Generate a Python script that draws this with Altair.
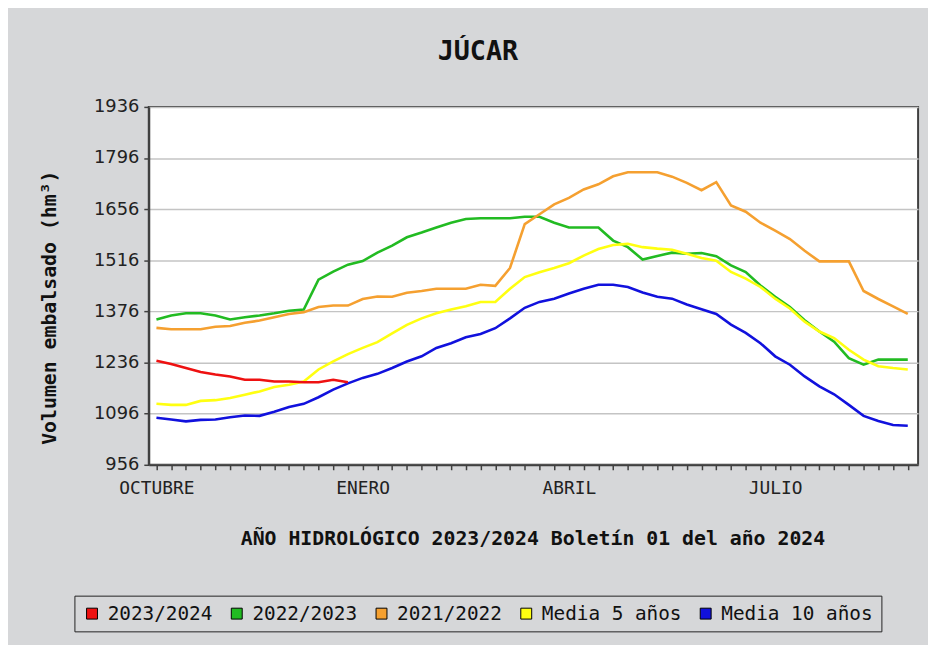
import altair as alt
import pandas as pd

# ---- data ----
series_names = ["2023/2024", "2022/2023", "2021/2022", "Media 5 años", "Media 10 años"]
series_colors = ["#ee1111", "#22bb22", "#f5a030", "#ffff11", "#1111dd"]

red = [1241, 1232, 1221, 1210, 1203, 1198, 1189, 1189, 1184, 1184, 1182, 1182, 1189, 1182]

green = [1354, 1365, 1371, 1371, 1365, 1354, 1360, 1365, 1371, 1378, 1381, 1463, 1485, 1504,
         1514, 1537, 1556, 1579, 1592, 1606, 1619, 1629, 1631, 1631, 1631, 1635, 1635, 1619,
         1606, 1606, 1606, 1570, 1552, 1518, 1528, 1537, 1534, 1536, 1527, 1502, 1484, 1447,
         1416, 1388, 1352, 1321, 1293, 1248, 1230, 1244, 1244, 1244]

orange = [1331, 1327, 1327, 1327, 1334, 1336, 1345, 1351, 1360, 1369, 1374, 1388, 1392, 1392,
          1410, 1417, 1416, 1427, 1432, 1438, 1438, 1438, 1449, 1446, 1495, 1615, 1642, 1669,
          1687, 1710, 1724, 1746, 1757, 1757, 1757, 1745, 1728, 1708, 1730, 1666, 1649, 1619,
          1597, 1574, 1542, 1513, 1513, 1513, 1432, 1410, 1390, 1369]

yellow = [1123, 1120, 1120, 1131, 1133, 1139, 1148, 1157, 1169, 1175, 1184, 1217, 1239, 1259,
          1276, 1292, 1316, 1339, 1357, 1371, 1381, 1390, 1402, 1402, 1438, 1470, 1483, 1495,
          1508, 1529, 1547, 1558, 1561, 1552, 1548, 1545, 1534, 1522, 1515, 1484, 1466, 1443,
          1411, 1384, 1348, 1321, 1303, 1271, 1244, 1226, 1221, 1217]

blue = [1085, 1080, 1075, 1079, 1080, 1086, 1091, 1090, 1101, 1114, 1123, 1141, 1162, 1179,
        1194, 1205, 1221, 1239, 1253, 1276, 1289, 1305, 1314, 1330, 1357, 1386, 1402, 1411,
        1425, 1438, 1449, 1449, 1443, 1428, 1416, 1411, 1395, 1382, 1369, 1340, 1317, 1289,
        1253, 1230, 1198, 1171, 1149, 1120, 1090, 1076, 1065, 1063]

y_ticks = [956, 1096, 1236, 1376, 1516, 1656, 1796, 1936]
month_ticks = [0, 14, 28, 42]
month_labels = ["OCTUBRE", "ENERO", "ABRIL", "JULIO"]
n_weeks = 52

title_text = "JÚCAR"
x_title = "AÑO HIDROLÓGICO 2023/2024 Boletín 01 del año 2024"
y_title = "Volumen embalsado (hm³)"

# ---- build long table (draw order: red last, on top) ----
rows = []
draw_order = [(series_names[1], green), (series_names[2], orange), (series_names[3], yellow),
              (series_names[4], blue), (series_names[0], red)]
for name, vals in draw_order:
    for i, v in enumerate(vals):
        rows.append({"semana": i, "valor": v, "serie": name})
df = pd.DataFrame(rows)

label_expr = " : ".join(
    f"datum.value == {t} ? '{l}'" for t, l in zip(month_ticks, month_labels)
) + " : ''"

x_enc = alt.X(
    "semana:Q",
    scale=alt.Scale(domain=[-0.52, 51.7], nice=False, zero=False),
    axis=alt.Axis(
        values=list(range(n_weeks)),
        labelExpr=label_expr,
        labelOverlap=False,
        labelFlush=False,
        grid=False,
        tickSize=5,
        labelPadding=10,
        labelFont="DejaVu Sans Mono",
        labelFontSize=18,
        title=x_title,
        titleFont="DejaVu Sans Mono",
        titleFontWeight="bold",
        titleFontSize=20,
        titleX=387,
        titleY=74,
        titleBaseline="middle",
        titleAlign="center",
    ),
)
y_enc = alt.Y(
    "valor:Q",
    scale=alt.Scale(domain=[956, 1936], nice=False, zero=False),
    axis=alt.Axis(
        values=y_ticks,
        format="d",
        grid=True,
        tickSize=5,
        labelPadding=5,
        labelFont="DejaVu Sans",
        labelFontSize=18,
        title=y_title,
        titleFont="DejaVu Sans Mono",
        titleFontWeight="bold",
        titleFontSize=20,
        titleX=-100,
        titleY=202,
        titleAngle=270,
        titleBaseline="middle",
        titleAlign="center",
    ),
)

color_scale = alt.Scale(domain=series_names, range=series_colors)

lines = alt.Chart(df).mark_line(strokeWidth=2.6).encode(
    x=x_enc,
    y=y_enc,
    color=alt.Color("serie:N", scale=color_scale, legend=None),
    detail="serie:N",
)

legend_layer = alt.Chart(df).mark_square(opacity=0, size=10, stroke="black", strokeWidth=1).encode(
    x=x_enc,
    y=y_enc,
    color=alt.Color(
        "serie:N",
        scale=color_scale,
        sort=series_names,
        legend=alt.Legend(
            title=None,
            orient="none",
            legendX=-75,
            legendY=493,
            direction="horizontal",
            symbolType="square",
            symbolSize=121,
            symbolOpacity=1,
            symbolStrokeColor="black",
            symbolStrokeWidth=1,
            labelFont="DejaVu Sans Mono",
            labelFontSize=19.5,
            labelColor="#111111",
            labelOffset=6,
            columnPadding=14,
            padding=8,
            strokeColor="#222222",
        ),
    ),
)

title_layer = alt.Chart(pd.DataFrame({"t": [title_text]})).mark_text(
    font="DejaVu Sans Mono", fontWeight="bold", fontSize=27, baseline="middle", align="center",
    color="#111111",
).encode(text="t:N", x=alt.value(332), y=alt.value(-55))

chart = alt.layer(lines, legend_layer, title_layer).resolve_scale(color="independent").properties(
    width=776,
    height=361,
    background="#d6d7d9",
    padding={"left": 142, "top": 97, "right": 10, "bottom": 179},
    autosize=alt.AutoSizeParams(type="none"),
).configure_view(
    fill="white", stroke="#404040", strokeWidth=2
).configure_axis(
    domainColor="#404040", domainWidth=2, tickColor="#404040", tickWidth=1.5,
    labelColor="#222222", titleColor="#111111", gridColor="#c4c4c4", gridWidth=1.5,
)

chart.save("out.html", embed_options={"renderer": "svg", "actions": False})
